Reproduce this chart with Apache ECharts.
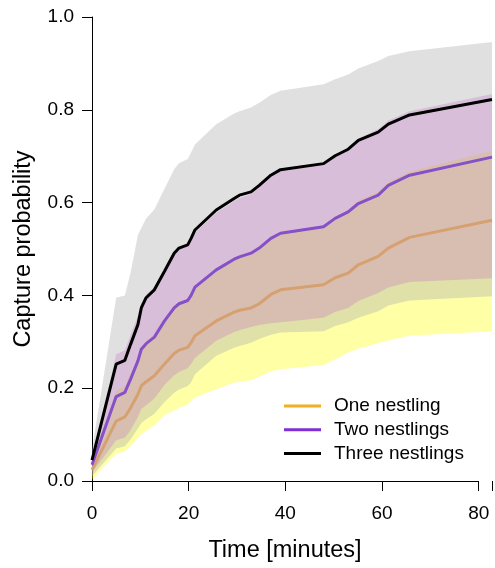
<!DOCTYPE html>
<html>
<head>
<meta charset="utf-8">
<script src="https://cdn.jsdelivr.net/npm/echarts@6/dist/echarts.min.js"></script>
<style>
html, body { margin: 0; padding: 0; background: #fff; }
#chart { width: 495px; height: 568px; }
</style>
</head>
<body>
<div id="chart"></div>
<script>
// event times (minutes), shared by all curves
const times = [0, 5, 6.8, 8, 9.5, 10.2, 11.2, 12.9, 15, 17, 18, 19.8, 20.5, 21.3, 25.7, 29.4, 30.5, 32.9, 34.6, 37, 39, 47.9, 50.3, 53, 55.1, 59.2, 61.3, 65.7, 82.75]

// one nestling
const oneMid = [0.024, 0.129, 0.138, 0.158, 0.187, 0.205, 0.214, 0.227, 0.252, 0.275, 0.282, 0.288, 0.298, 0.313, 0.345, 0.364, 0.368, 0.373, 0.382, 0.402, 0.412, 0.423, 0.438, 0.448, 0.466, 0.484, 0.502, 0.525, 0.562]
const oneLow = [0.003, 0.059, 0.063, 0.075, 0.093, 0.102, 0.108, 0.12, 0.142, 0.152, 0.158, 0.165, 0.172, 0.18, 0.198, 0.212, 0.214, 0.217, 0.225, 0.236, 0.241, 0.25, 0.262, 0.277, 0.285, 0.297, 0.303, 0.313, 0.323]
const oneHigh = [0.04, 0.195, 0.205, 0.232, 0.268, 0.29, 0.302, 0.316, 0.349, 0.377, 0.385, 0.392, 0.402, 0.42, 0.456, 0.478, 0.483, 0.492, 0.503, 0.523, 0.535, 0.551, 0.57, 0.585, 0.604, 0.624, 0.645, 0.667, 0.712]

// two nestlings
const twoMid = [0.035, 0.182, 0.191, 0.22, 0.259, 0.284, 0.296, 0.31, 0.345, 0.373, 0.382, 0.389, 0.4, 0.418, 0.455, 0.478, 0.483, 0.491, 0.502, 0.523, 0.534, 0.548, 0.566, 0.58, 0.598, 0.616, 0.637, 0.659, 0.698]
const twoLow = [0.018, 0.088, 0.093, 0.11, 0.138, 0.155, 0.163, 0.178, 0.207, 0.228, 0.235, 0.243, 0.252, 0.265, 0.302, 0.321, 0.325, 0.332, 0.336, 0.34, 0.342, 0.352, 0.364, 0.373, 0.388, 0.405, 0.417, 0.429, 0.437]
const twoHigh = [0.05, 0.273, 0.282, 0.316, 0.356, 0.384, 0.402, 0.418, 0.455, 0.49, 0.499, 0.505, 0.518, 0.535, 0.578, 0.603, 0.61, 0.618, 0.633, 0.655, 0.668, 0.683, 0.702, 0.718, 0.738, 0.758, 0.777, 0.797, 0.834]

// three nestlings
const threeMid = [0.045, 0.252, 0.26, 0.295, 0.337, 0.373, 0.395, 0.412, 0.452, 0.491, 0.502, 0.509, 0.523, 0.541, 0.584, 0.609, 0.616, 0.623, 0.637, 0.659, 0.671, 0.684, 0.701, 0.715, 0.734, 0.752, 0.769, 0.789, 0.822]
const threeLow = [0.01, 0.07, 0.075, 0.09, 0.113, 0.125, 0.133, 0.145, 0.17, 0.19, 0.197, 0.205, 0.213, 0.23, 0.27, 0.287, 0.291, 0.298, 0.306, 0.315, 0.32, 0.323, 0.334, 0.342, 0.352, 0.366, 0.378, 0.389, 0.398]
const threeHigh = [0.067, 0.395, 0.4, 0.45, 0.53, 0.545, 0.566, 0.585, 0.63, 0.672, 0.685, 0.694, 0.708, 0.725, 0.769, 0.792, 0.797, 0.805, 0.815, 0.832, 0.841, 0.855, 0.866, 0.876, 0.889, 0.905, 0.916, 0.926, 0.946]

const xTicks = [0, 20, 40, 60, 80]
const legendNames = ['One nestling', 'Two nestlings', 'Three nestlings']

const FONT = 'Liberation Sans, Arial, sans-serif'

function pairs(vals) {
	return times.map((t, i) => [t, vals[i]])
}

// confidence band drawn as one polygon through the axes' scales
function band(key, low, high, color) {
	return {
		name: key + '-band',
		type: 'custom',
		silent: true,
		data: times.map((t, i) => [t, low[i], high[i]]),
		encode: { x: 0, y: [1, 2] },
		renderItem: (params, api) => {
			if (params.dataIndex !== 0) return null
			const pts = []
			times.forEach((t, i) => pts.push(api.coord([t, high[i]])))
			for (let i = times.length - 1; i >= 0; i--) pts.push(api.coord([times[i], low[i]]))
			return {
				type: 'polygon',
				shape: { points: pts },
				style: { fill: color, stroke: null }
			}
		},
		clip: true
	}
}

function midLine(name, vals, color) {
	return {
		name: name,
		type: 'line',
		symbol: 'none',
		lineStyle: { color: color, width: 3 },
		itemStyle: { color: color },
		data: pairs(vals)
	}
}

const chart = echarts.init(document.getElementById('chart'))

const lineIcon = 'path://M0 0H37V3H0Z'

chart.setOption({
	animation: false,
	grid: { left: 92, right: 0, top: 17, bottom: 84 },
	legend: {
		orient: 'vertical',
		left: 279,
		top: 391,
		itemWidth: 37,
		itemHeight: 20,
		itemGap: 3.7,
		symbolKeepAspect: true,
		textStyle: { fontSize: 19, fontFamily: FONT, color: '#000', padding: [0, 0, 0, 8], lineHeight: 20 },
		data: [
			{ name: legendNames[0], icon: lineIcon, itemStyle: { color: '#f0b020' } },
			{ name: legendNames[1], icon: lineIcon, itemStyle: { color: '#7f2fd6' } },
			{ name: legendNames[2], icon: lineIcon, itemStyle: { color: '#000' } }
		]
	},
	xAxis: {
		type: 'value',
		min: 0,
		max: 82.75,
		interval: 20,
		name: 'Time [minutes]',
		nameLocation: 'middle',
		nameGap: 58,
		nameTextStyle: { fontSize: 23.5, fontFamily: FONT, color: '#000', padding: [0, 14, 0, 0] },
		axisLine: { show: false },
		axisTick: { show: true, length: 10, lineStyle: { color: '#000', width: 1 } },
		axisLabel: {
			fontSize: 19,
			fontFamily: FONT,
			color: '#000',
			margin: 23,
			formatter: v => (xTicks.indexOf(v) >= 0 ? String(v) : '')
		},
		splitLine: { show: false }
	},
	yAxis: {
		type: 'value',
		min: 0,
		max: 1,
		interval: 0.2,
		name: 'Capture probability',
		nameLocation: 'middle',
		nameGap: 56,
		nameTextStyle: { fontSize: 23.5, fontFamily: FONT, color: '#000' },
		axisLine: { show: true, lineStyle: { color: '#000', width: 1 } },
		axisTick: { show: true, length: 10, lineStyle: { color: '#000', width: 1 } },
		axisLabel: { fontSize: 19, fontFamily: FONT, color: '#000', margin: 18, formatter: v => v.toFixed(1) },
		splitLine: { show: false }
	},
	series: [
		band('one', oneLow, oneHigh, 'rgba(255,255,0,0.35)'),
		band('three', threeLow, threeHigh, 'rgba(174,174,174,0.382)'),
		band('two', twoLow, twoHigh, 'rgba(195,103,195,0.273)'),
		midLine(legendNames[0], oneMid, '#d6a070'),
		midLine(legendNames[1], twoMid, '#8650c8'),
		midLine(legendNames[2], threeMid, '#000'),
		{
			// x axis line, drawn only from 0 to 80 like the reference
			name: 'x-axis-line',
			type: 'line',
			data: [],
			silent: true,
			markLine: {
				silent: true,
				symbol: 'none',
				label: { show: false },
				lineStyle: { color: '#000', width: 1, type: 'solid' },
				data: [[{ coord: [xTicks[0], 0] }, { coord: [xTicks[xTicks.length - 1], 0] }]]
			}
		}
	]
})
</script>
</body>
</html>
